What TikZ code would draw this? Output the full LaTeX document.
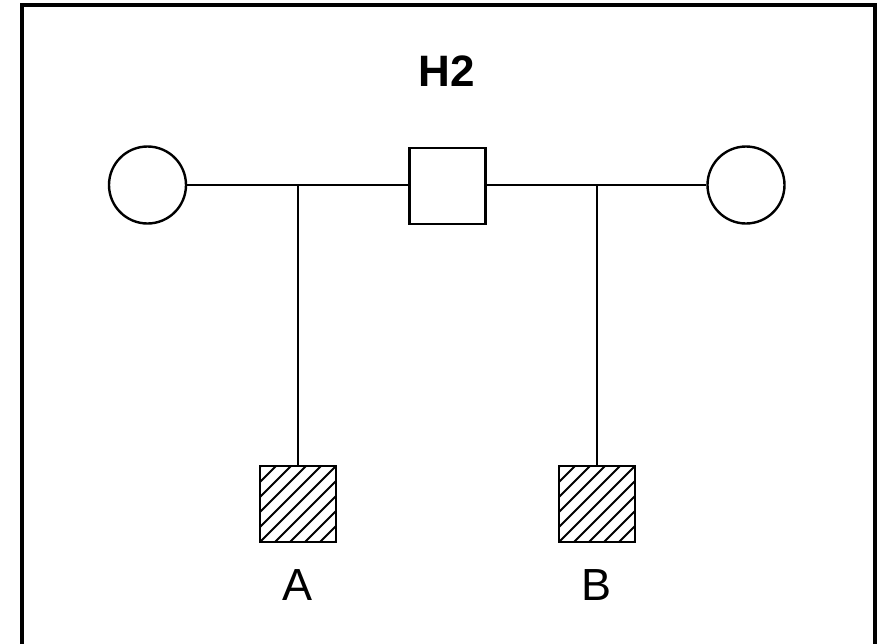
\documentclass[tikz,border=0pt]{standalone}
\usepackage{fontspec}
\setmainfont{Liberation Sans}
\begin{document}
\begin{tikzpicture}[x=1pt,y=-1pt,
  conn/.style={line width=2.3pt},
  female/.style={circle,draw,line width=2.4pt,minimum size=77pt,inner sep=0pt},
  male/.style={rectangle,draw,line width=2.6pt,minimum size=76pt,inner sep=0pt},
  affected/.style={male,path picture={
     \foreach \k in {-90,-75,...,90}{
       \draw[line width=1.9pt] ([xshift=\k pt]path picture bounding box.south west) -- ++(100pt,100pt);}}},
  lbl/.style={font=\fontsize{45}{48}\selectfont,inner sep=0pt},
  title/.style={font=\fontsize{44}{46}\selectfont\bfseries,inner sep=0pt}]
\useasboundingbox (0,0) rectangle (884,643);
\draw[line width=4pt] (22,5) rectangle (875,660);
\node[title] (t) at (447,71) {H2};
\node[female] (m1) at (147.5,185) {};
\node[male] (f) at (447.5,186) {};
\node[female] (m2) at (746,185) {};
\coordinate (j1) at (298,185);
\coordinate (j2) at (597,185);
\node[affected] (a) at (298,504) {};
\node[affected] (b) at (597,504) {};
\node[lbl] (la) at (298,585) {A};
\node[lbl] (lb) at (597,585) {B};
\draw[conn] (m1.east) -- (m1.east -| f.west);
\draw[conn] (f.east |- m2.west) -- (m2.west);
\draw[conn] (j1) -- (a.north);
\draw[conn] (j2) -- (b.north);
\end{tikzpicture}
\end{document}
